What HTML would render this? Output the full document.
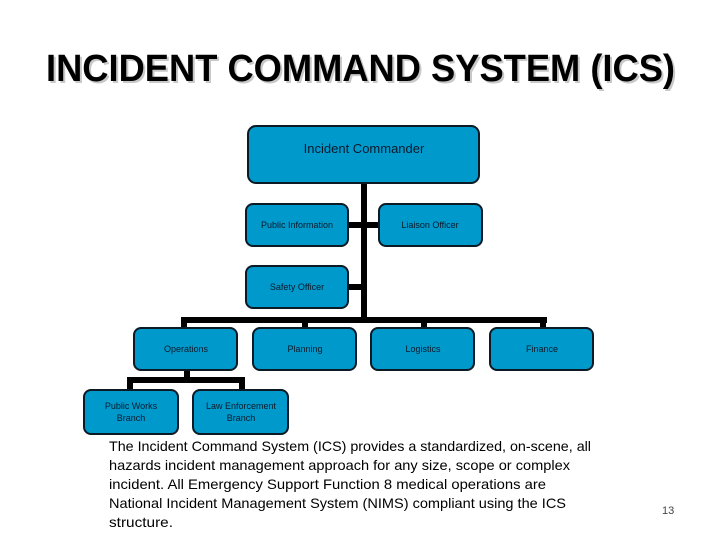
<!DOCTYPE html>
<html><head><meta charset="utf-8"><style>
html,body{margin:0;padding:0;background:#fff;width:720px;height:540px;overflow:hidden}
svg{display:block}
</style></head><body>
<svg width="720" height="540" viewBox="0 0 720 540" xmlns="http://www.w3.org/2000/svg" font-family="Liberation Sans, sans-serif">
<text x="48" y="83" font-size="38" font-weight="bold" fill="#c8c8c8" textLength="629" lengthAdjust="spacingAndGlyphs">INCIDENT COMMAND SYSTEM (ICS)</text>
<text x="46" y="81" font-size="38" font-weight="bold" fill="#000" textLength="629" lengthAdjust="spacingAndGlyphs">INCIDENT COMMAND SYSTEM (ICS)</text>
<g fill="#000">
<rect x="361" y="183" width="6" height="137"/>
<rect x="181" y="317" width="366" height="6"/>
<rect x="348" y="222" width="31" height="6"/>
<rect x="348" y="284" width="16" height="6"/>
<rect x="181" y="317" width="6" height="12"/>
<rect x="302" y="317" width="6" height="12"/>
<rect x="421" y="317" width="6" height="12"/>
<rect x="540" y="317" width="6" height="12"/>
<rect x="184" y="370" width="6" height="10"/>
<rect x="127" y="377" width="118" height="6"/>
<rect x="127" y="377" width="6" height="14"/>
<rect x="239" y="377" width="6" height="14"/>
</g>
<g fill="#0099cc" stroke="#0b1a24" stroke-width="2">
<rect x="248" y="126" width="231" height="57" rx="8"/>
<rect x="246" y="204" width="102" height="42" rx="7"/>
<rect x="379" y="204" width="103" height="42" rx="7"/>
<rect x="246" y="266" width="102" height="42" rx="7"/>
<rect x="134" y="328" width="103" height="42" rx="7"/>
<rect x="253" y="328" width="103" height="42" rx="7"/>
<rect x="371" y="328" width="103" height="42" rx="7"/>
<rect x="490" y="328" width="103" height="42" rx="7"/>
<rect x="84" y="390" width="94" height="44" rx="7"/>
<rect x="193" y="390" width="95" height="44" rx="7"/>
</g>
<g fill="#0b1a2a" text-anchor="middle" font-size="9">
<text x="364" y="153" font-size="13">Incident Commander</text>
<text x="297" y="228">Public Information</text>
<text x="430" y="228">Liaison Officer</text>
<text x="297" y="290">Safety Officer</text>
<text x="186" y="352">Operations</text>
<text x="305" y="352">Planning</text>
<text x="423" y="352">Logistics</text>
<text x="542" y="352">Finance</text>
<text x="131" y="409">Public Works</text>
<text x="131" y="421">Branch</text>
<text x="241" y="409">Law Enforcement</text>
<text x="241" y="421">Branch</text>
</g>
<g font-size="14" fill="#000">
<text x="109" y="451" textLength="482" lengthAdjust="spacingAndGlyphs">The Incident Command System (ICS) provides a standardized, on-scene, all</text>
<text x="109" y="470" textLength="461" lengthAdjust="spacingAndGlyphs">hazards incident management approach for any size, scope or complex</text>
<text x="109" y="489" textLength="437" lengthAdjust="spacingAndGlyphs">incident.  All Emergency Support Function 8 medical operations are</text>
<text x="109" y="508" textLength="457" lengthAdjust="spacingAndGlyphs">National Incident Management System (NIMS) compliant using the ICS</text>
<text x="109" y="527" textLength="64" lengthAdjust="spacingAndGlyphs">structure.</text>
</g>
<text x="662" y="514" font-size="11" fill="#444">13</text>
</svg>
</body></html>
